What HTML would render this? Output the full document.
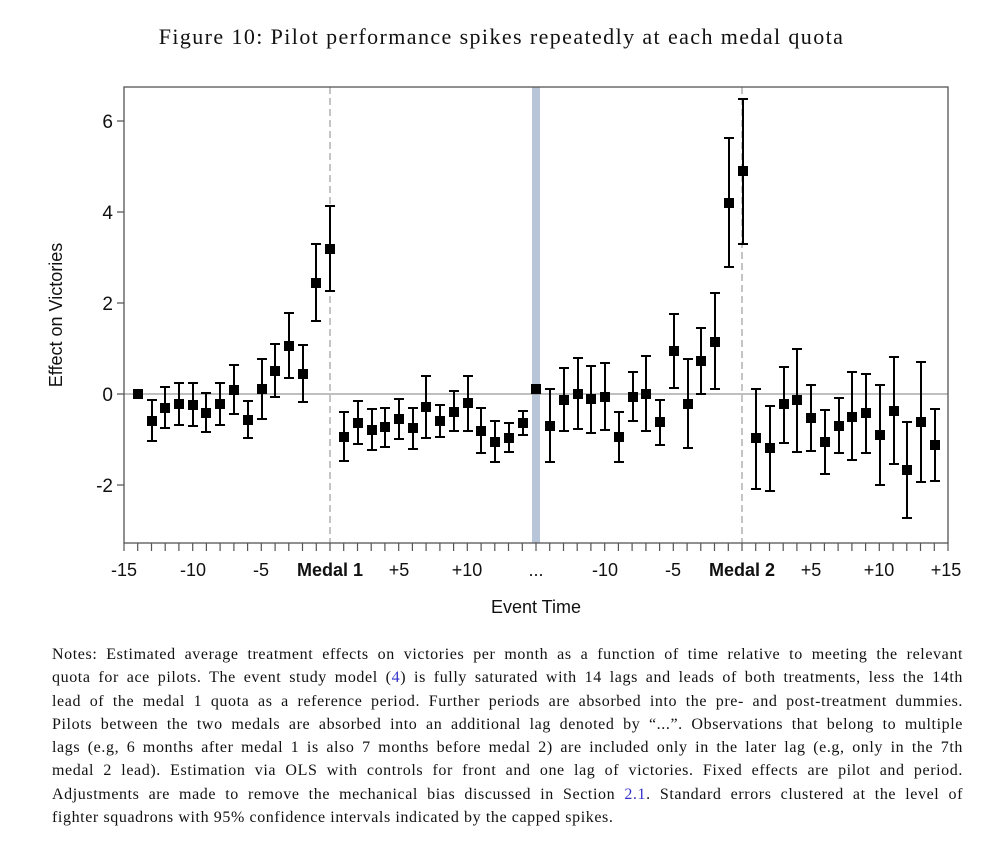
<!DOCTYPE html>
<html><head><meta charset="utf-8"><style>
body{margin:0;background:#fff;width:1003px;height:847px;overflow:hidden;position:relative}
.t{position:absolute;left:0;width:1003px;top:24px;text-align:center;font-family:"Liberation Serif",serif;font-size:22px;letter-spacing:1.4px;color:#111}
.n{position:absolute;left:52px;width:911px;top:643px;font-family:"Liberation Serif",serif;font-size:16px;letter-spacing:0.6px;line-height:23.3px;color:#111}
.n div{text-align:justify;text-align-last:justify;white-space:nowrap}
.n div.l{text-align-last:left}
.n a{color:#3333cc}
svg{position:absolute;left:0;top:0}
svg text{font-family:"Liberation Sans",sans-serif;fill:#111}
</style></head><body>
<div class="t">Figure 10: Pilot performance spikes repeatedly at each medal quota</div>
<svg width="1003" height="640">
<rect x="532" y="87" width="8" height="456" fill="#b8c5d8"/>
<line x1="124" y1="394" x2="948" y2="394" stroke="#999" stroke-width="1.3"/>
<line x1="330" y1="87" x2="330" y2="543" stroke="#888" stroke-width="1" stroke-dasharray="7,4"/>
<line x1="742" y1="87" x2="742" y2="543" stroke="#888" stroke-width="1" stroke-dasharray="7,4"/>
<rect x="124" y="87" width="824" height="456" fill="none" stroke="#555" stroke-width="1.3"/>
<path stroke="#555" stroke-width="1.2" d="M117 121H124M117 212H124M117 303H124M117 394H124M117 485H124
M124 543v8M137.7 543v8M151.5 543v8M165.2 543v8M178.9 543v8M192.7 543v8M206.4 543v8M220.1 543v8M233.9 543v8M247.6 543v8M261.3 543v8M275.1 543v8M288.8 543v8M302.5 543v8M316.3 543v8M330 543v8M343.7 543v8M357.5 543v8M371.2 543v8M384.9 543v8M398.7 543v8M412.4 543v8M426.1 543v8M439.9 543v8M453.6 543v8M467.3 543v8M481.1 543v8M494.8 543v8M508.5 543v8M522.3 543v8M536 543v8M549.7 543v8M563.5 543v8M577.2 543v8M590.9 543v8M604.7 543v8M618.4 543v8M632.1 543v8M645.9 543v8M659.6 543v8M673.3 543v8M687.1 543v8M700.8 543v8M714.5 543v8M728.3 543v8M742 543v8M755.7 543v8M769.5 543v8M783.2 543v8M796.9 543v8M810.7 543v8M824.4 543v8M838.1 543v8M851.9 543v8M865.6 543v8M879.3 543v8M893.1 543v8M906.8 543v8M920.5 543v8M934.3 543v8M948 543v8"/>
<g font-size="19" text-anchor="end">
<text x="113" y="128">6</text><text x="113" y="219">4</text><text x="113" y="310">2</text><text x="113" y="401">0</text><text x="113" y="492">-2</text>
</g>
<g font-size="18" text-anchor="middle">
<text x="124" y="576">-15</text><text x="193" y="576">-10</text><text x="261" y="576">-5</text><text x="330" y="576" font-weight="bold">Medal 1</text><text x="399" y="576">+5</text><text x="467" y="576">+10</text><text x="536" y="576">...</text><text x="605" y="576">-10</text><text x="673" y="576">-5</text><text x="742" y="576" font-weight="bold">Medal 2</text><text x="811" y="576">+5</text><text x="879" y="576">+10</text><text x="946" y="576">+15</text>
</g>
<text x="536" y="613" font-size="18" text-anchor="middle">Event Time</text>
<text transform="translate(62,315) rotate(-90)" font-size="18" text-anchor="middle">Effect on Victories</text>
<g stroke="#000" stroke-width="2" fill="none">
<path d="
M152 400V441M147 400H157M147 441H157
M165 387V428M160 387H170M160 428H170
M179 383V425M174 383H184M174 425H184
M193 383V426M188 383H198M188 426H198
M206 393V432M201 393H211M201 432H211
M220 383V425M215 383H225M215 425H225
M234 365V414M229 365H239M229 414H239
M248 401V438M243 401H253M243 438H253
M262 359V419M257 359H267M257 419H267
M275 344V397M270 344H280M270 397H280
M289 313V378M284 313H294M284 378H294
M303 345V402M298 345H308M298 402H308
M316 244V321M311 244H321M311 321H321
M330 206V291M325 206H335M325 291H335
M344 412V461M339 412H349M339 461H349
M358 401V444M353 401H363M353 444H363
M372 409V450M367 409H377M367 450H377
M385 408V447M380 408H390M380 447H390
M399 399V439M394 399H404M394 439H404
M413 408V449M408 408H418M408 449H418
M426 376V438M421 376H431M421 438H431
M440 405V437M435 405H445M435 437H445
M454 391V431M449 391H459M449 431H459
M468 376V431M463 376H473M463 431H473
M481 408V453M476 408H486M476 453H486
M495 421V462M490 421H500M490 462H500
M509 423V452M504 423H514M504 452H514
M523 411V435M518 411H528M518 435H528
M550 389V462M545 389H555M545 462H555
M564 368V431M559 368H569M559 431H569
M578 358V429M573 358H583M573 429H583
M591 366V433M586 366H596M586 433H596
M605 363V430M600 363H610M600 430H610
M619 412V462M614 412H624M614 462H624
M633 372V421M628 372H638M628 421H638
M646 356V431M641 356H651M641 431H651
M660 400V445M655 400H665M655 445H665
M674 314V388M669 314H679M669 388H679
M688 359V448M683 359H693M683 448H693
M701 328V394M696 328H706M696 394H706
M715 293V389M710 293H720M710 389H720
M729 138V267M724 138H734M724 267H734
M743 99V244M738 99H748M738 244H748
M756 389V489M751 389H761M751 489H761
M770 406V491M765 406H775M765 491H775
M784 367V443M779 367H789M779 443H789
M797 349V452M792 349H802M792 452H802
M811 385V451M806 385H816M806 451H816
M825 410V474M820 410H830M820 474H830
M839 398V453M834 398H844M834 453H844
M852 372V460M847 372H857M847 460H857
M866 374V453M861 374H871M861 453H871
M880 385V485M875 385H885M875 485H885
M894 357V464M889 357H899M889 464H899
M907 422V518M902 422H912M902 518H912
M921 362V482M916 362H926M916 482H926
M935 409V481M930 409H940M930 481H940"/>
</g>
<g fill="#000">
<rect x="133" y="389" width="10" height="10"/><rect x="147" y="416" width="10" height="10"/><rect x="160" y="403" width="10" height="10"/><rect x="174" y="399" width="10" height="10"/><rect x="188" y="400" width="10" height="10"/><rect x="201" y="408" width="10" height="10"/><rect x="215" y="399" width="10" height="10"/><rect x="229" y="385" width="10" height="10"/><rect x="243" y="415" width="10" height="10"/><rect x="257" y="384" width="10" height="10"/><rect x="270" y="366" width="10" height="10"/><rect x="284" y="341" width="10" height="10"/><rect x="298" y="369" width="10" height="10"/><rect x="311" y="278" width="10" height="10"/><rect x="325" y="244" width="10" height="10"/>
<rect x="339" y="432" width="10" height="10"/><rect x="353" y="418" width="10" height="10"/><rect x="367" y="425" width="10" height="10"/><rect x="380" y="422" width="10" height="10"/><rect x="394" y="414" width="10" height="10"/><rect x="408" y="423" width="10" height="10"/><rect x="421" y="402" width="10" height="10"/><rect x="435" y="416" width="10" height="10"/><rect x="449" y="407" width="10" height="10"/><rect x="463" y="398" width="10" height="10"/><rect x="476" y="426" width="10" height="10"/><rect x="490" y="437" width="10" height="10"/><rect x="504" y="433" width="10" height="10"/><rect x="518" y="418" width="10" height="10"/><rect x="531" y="384" width="10" height="10"/>
<rect x="545" y="421" width="10" height="10"/><rect x="559" y="395" width="10" height="10"/><rect x="573" y="389" width="10" height="10"/><rect x="586" y="394" width="10" height="10"/><rect x="600" y="392" width="10" height="10"/><rect x="614" y="432" width="10" height="10"/><rect x="628" y="392" width="10" height="10"/><rect x="641" y="389" width="10" height="10"/><rect x="655" y="417" width="10" height="10"/><rect x="669" y="346" width="10" height="10"/><rect x="683" y="399" width="10" height="10"/><rect x="696" y="356" width="10" height="10"/><rect x="710" y="337" width="10" height="10"/><rect x="724" y="198" width="10" height="10"/><rect x="738" y="166" width="10" height="10"/>
<rect x="751" y="433" width="10" height="10"/><rect x="765" y="443" width="10" height="10"/><rect x="779" y="399" width="10" height="10"/><rect x="792" y="395" width="10" height="10"/><rect x="806" y="413" width="10" height="10"/><rect x="820" y="437" width="10" height="10"/><rect x="834" y="421" width="10" height="10"/><rect x="847" y="412" width="10" height="10"/><rect x="861" y="408" width="10" height="10"/><rect x="875" y="430" width="10" height="10"/><rect x="889" y="406" width="10" height="10"/><rect x="902" y="465" width="10" height="10"/><rect x="916" y="417" width="10" height="10"/><rect x="930" y="440" width="10" height="10"/>
</g>
</svg>
<div class="n">
<div>Notes: Estimated average treatment effects on victories per month as a function of time relative to meeting the relevant</div>
<div>quota for ace pilots. The event study model (<a>4</a>) is fully saturated with 14 lags and leads of both treatments, less the 14th</div>
<div>lead of the medal 1 quota as a reference period. Further periods are absorbed into the pre- and post-treatment dummies.</div>
<div>Pilots between the two medals are absorbed into an additional lag denoted by “...”. Observations that belong to multiple</div>
<div>lags (e.g, 6 months after medal 1 is also 7 months before medal 2) are included only in the later lag (e.g, only in the 7th</div>
<div>medal 2 lead). Estimation via OLS with controls for front and one lag of victories. Fixed effects are pilot and period.</div>
<div>Adjustments are made to remove the mechanical bias discussed in Section <a>2.1</a>. Standard errors clustered at the level of</div>
<div class="l">fighter squadrons with 95% confidence intervals indicated by the capped spikes.</div>
</div>
</body></html>
